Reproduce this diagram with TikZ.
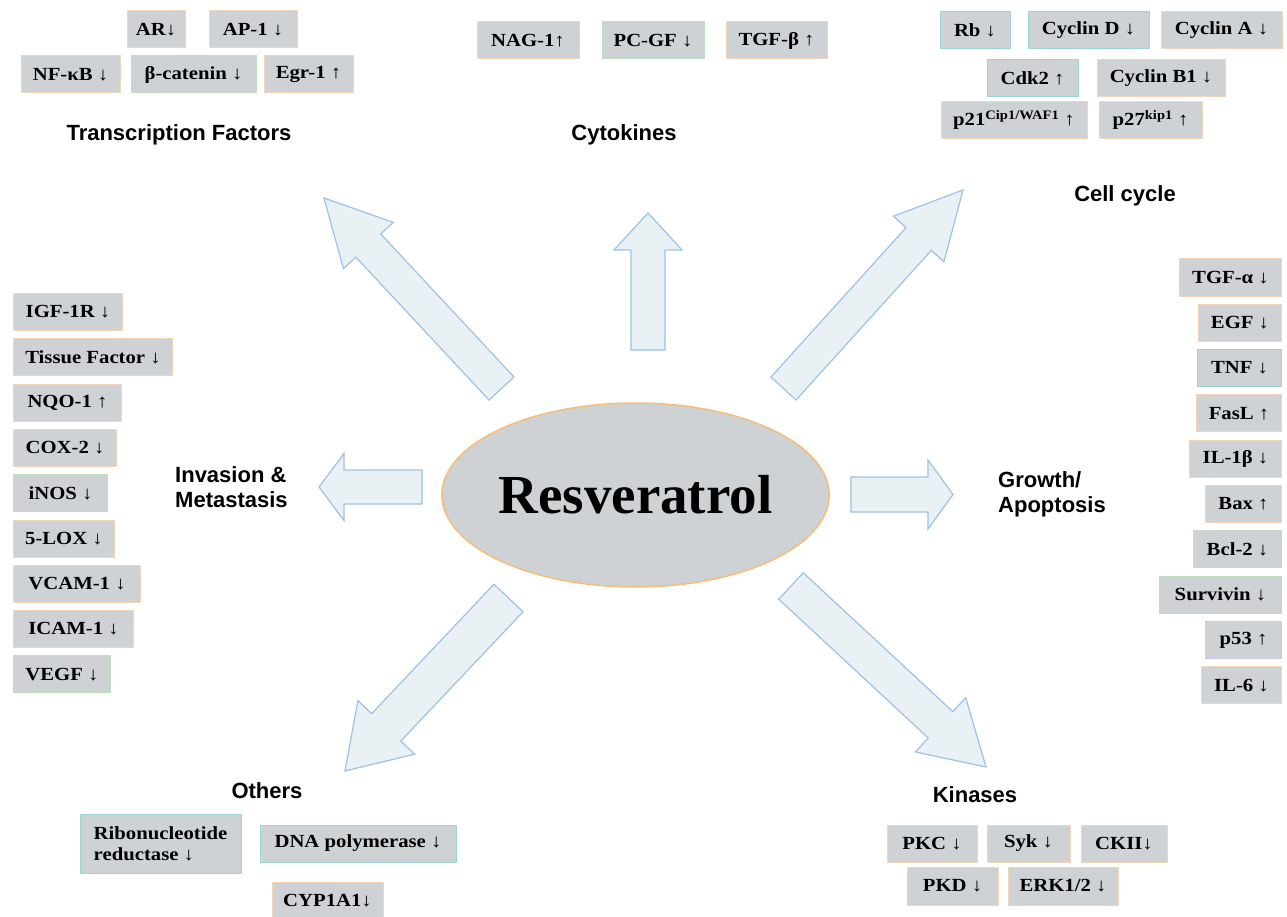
\documentclass[tikz,border=0pt]{standalone}
\usepackage{fontspec}
\setmainfont{Liberation Serif}
\newfontfamily\boxfont{Liberation Serif}[FakeStretch=1.12]
\newfontfamily\labelfont{Liberation Sans}
\usetikzlibrary{calc,shapes.geometric}
\definecolor{boxfill}{RGB}{206,210,213}
\definecolor{peach}{RGB}{243,214,186}
\definecolor{tealb}{RGB}{158,212,212}
\definecolor{greenb}{RGB}{190,222,190}
\definecolor{lavb}{RGB}{205,200,235}
\definecolor{arrowfill}{RGB}{234,241,244}
\definecolor{arrowline}{RGB}{156,194,229}
\definecolor{ellline}{RGB}{245,190,120}
\tikzset{
  box/.style={draw=peach, line width=1pt, fill=boxfill, inner sep=0pt,
    minimum height=37pt, font=\boxfont\bfseries\fontsize{18.5}{21}\selectfont},
  tbox/.style={box, draw=tealb},
  gbox/.style={box, draw=greenb},
  lbox/.style={box, draw=lavb},
  cat/.style={font=\labelfont\bfseries\fontsize{22}{25}\selectfont, inner sep=0pt, align=left},
  barrow/.style={draw=arrowline, fill=arrowfill, line width=1.2pt, line join=miter},
}
\newcommand\blockarrow[5]{%
  \coordinate (ba-h) at ($(#2)!#5!(#1)$);
  \draw[barrow] ($(#1)!#3!90:(#2)$) -- ($(ba-h)!#3!90:(#2)$) -- ($(ba-h)!#4!90:(#2)$)
    -- (#2) -- ($(ba-h)!#4!-90:(#2)$) -- ($(ba-h)!#3!-90:(#2)$) -- ($(#1)!#3!-90:(#2)$) -- cycle;
}
\begin{document}
\begin{tikzpicture}[x=1pt,y=-1pt]
\useasboundingbox[fill=white] (0,0) rectangle (1287,917);

% block arrows
\coordinate (tl-s) at (501.5,388.5); \coordinate (tl-t) at (324,198);
\coordinate (t-s) at (648,350);      \coordinate (t-t) at (648,213);
\coordinate (tr-s) at (783.5,388.5); \coordinate (tr-t) at (963,190);
\coordinate (l-s) at (422,487);      \coordinate (l-t) at (319,487);
\coordinate (r-s) at (851,494.5);    \coordinate (r-t) at (953,494.5);
\coordinate (bl-s) at (508.5,598);   \coordinate (bl-t) at (345,771);
\coordinate (br-s) at (791,586);     \coordinate (br-t) at (986,767);
\blockarrow{tl-s}{tl-t}{17pt}{34pt}{65pt}
\blockarrow{t-s}{t-t}{17pt}{34pt}{37pt}
\blockarrow{tr-s}{tr-t}{17pt}{34pt}{66pt}
\blockarrow{l-s}{l-t}{17pt}{33.5pt}{25pt}
\blockarrow{r-s}{r-t}{17.5pt}{34.5pt}{25pt}
\blockarrow{bl-s}{bl-t}{20pt}{39pt}{60pt}
\blockarrow{br-s}{br-t}{18pt}{37pt}{62pt}

% centre
\node[ellipse, draw=ellline, line width=1.5pt, fill=boxfill, minimum width=317pt,
  minimum height=184pt, inner sep=0pt, font=\bfseries\fontsize{55}{60}\selectfont]
  (res) at (635.5,495) {Resveratrol};

% category labels
\node[cat] (tf) at (179,135) {Transcription Factors};
\node[cat] (cy) at (624,135) {Cytokines};
\node[cat] (cc) at (1125,196) {Cell cycle};
\node[cat, anchor=west] (inv) at (175,487) {Invasion \&\\Metastasis};
\node[cat, anchor=west] (gro) at (998,494) {Growth/\\Apoptosis};
\node[cat] (oth) at (267,791) {Others};
\node[cat] (kin) at (975,795) {Kinases};

% transcription factors
\node[box, minimum width=58pt] (ar) at (156,29.5) {AR↓};
\node[box, minimum width=88pt] (ap1) at (253,29.5) {AP-1 ↓};
\node[box, minimum width=99pt] (nfkb) at (70.5,74.5) {NF-κB ↓};
\node[gbox, minimum width=125pt] (bcat) at (193.5,74.5) {β-catenin ↓};
\node[box, minimum width=89pt] (egr) at (308.5,74.5) {Egr-1 ↑};

% cytokines
\node[box, minimum width=102pt] (nag) at (528,40.5) {NAG-1↑};
\node[gbox, minimum width=102pt] (pcgf) at (653,40.5) {PC-GF ↓};
\node[box, minimum width=101pt] (tgfb) at (776.5,40.5) {TGF-β ↑};

% cell cycle
\node[tbox, minimum width=70pt] (rb) at (975,30.5) {Rb ↓};
\node[tbox, minimum width=121pt] (cycd) at (1088.5,30.5) {Cyclin D ↓};
\node[box, minimum width=121pt] (cyca) at (1221.5,30.5) {Cyclin A ↓};
\node[tbox, minimum width=91pt] (cdk2) at (1032.5,78) {Cdk2 ↑};
\node[box, minimum width=128pt] (cycb) at (1161,78) {Cyclin B1 ↓};
\node[box, minimum width=146pt] (p21) at (1014,120) {p21\textsuperscript{Cip1/WAF1} ↑};
\node[box, minimum width=103pt] (p27) at (1150.5,120) {p27\textsuperscript{kip1} ↑};

% invasion & metastasis
\node[box, anchor=west, minimum width=109pt] (igf) at (13,312) {IGF-1R ↓};
\node[box, anchor=west, minimum width=159pt] (tis) at (13,357.3) {Tissue Factor ↓};
\node[box, anchor=west, minimum width=108pt] (nqo) at (13,402.6) {NQO-1 ↑};
\node[box, anchor=west, minimum width=103pt] (cox) at (13,447.9) {COX-2 ↓};
\node[gbox, anchor=west, minimum width=94pt] (inos) at (13,493.2) {iNOS ↓};
\node[box, anchor=west, minimum width=101pt] (lox) at (13,538.5) {5-LOX ↓};
\node[box, anchor=west, minimum width=127pt] (vcam) at (13,583.8) {VCAM-1 ↓};
\node[box, anchor=west, minimum width=120pt] (icam) at (13,629.1) {ICAM-1 ↓};
\node[gbox, anchor=west, minimum width=97pt] (vegf) at (13,674.4) {VEGF ↓};

% growth / apoptosis
\node[box, anchor=east, minimum width=102pt] (tgfa) at (1282,277.5) {TGF-α ↓};
\node[box, anchor=east, minimum width=83pt] (egf) at (1282,322.8) {EGF ↓};
\node[tbox, anchor=east, minimum width=84pt] (tnf) at (1282,368.1) {TNF ↓};
\node[box, anchor=east, minimum width=85pt] (fasl) at (1282,413.4) {FasL ↑};
\node[box, anchor=east, minimum width=92pt] (il1) at (1282,458.7) {IL-1β ↓};
\node[box, anchor=east, minimum width=76pt] (bax) at (1282,504) {Bax ↑};
\node[gbox, anchor=east, minimum width=88pt] (bcl) at (1282,549.3) {Bcl-2 ↓};
\node[gbox, anchor=east, minimum width=122pt] (surv) at (1282,594.6) {Survivin ↓};
\node[lbox, anchor=east, minimum width=76pt] (p53) at (1282,639.9) {p53 ↑};
\node[box, anchor=east, minimum width=80pt] (il6) at (1282,685.2) {IL-6 ↓};

% others
\node[tbox, minimum width=161pt, minimum height=59pt, align=left] (ribo) at (160.5,843.5) {Ribonucleotide\\reductase ↓};
\node[tbox, minimum width=196pt] (dna) at (358,843.5) {DNA polymerase ↓};
\node[box, minimum width=111pt] (cyp) at (327.5,900.5) {CYP1A1↓};

% kinases
\node[box, minimum width=90pt] (pkc) at (932,843.5) {PKC ↓};
\node[box, minimum width=83pt] (syk) at (1028.5,843.5) {Syk ↓};
\node[box, minimum width=86pt] (ckii) at (1124,843.5) {CKII↓};
\node[box, minimum width=91pt, minimum height=38pt] (pkd) at (952.5,886) {PKD ↓};
\node[box, minimum width=110pt, minimum height=38pt] (erk) at (1063,886) {ERK1/2 ↓};
\end{tikzpicture}
\end{document}
